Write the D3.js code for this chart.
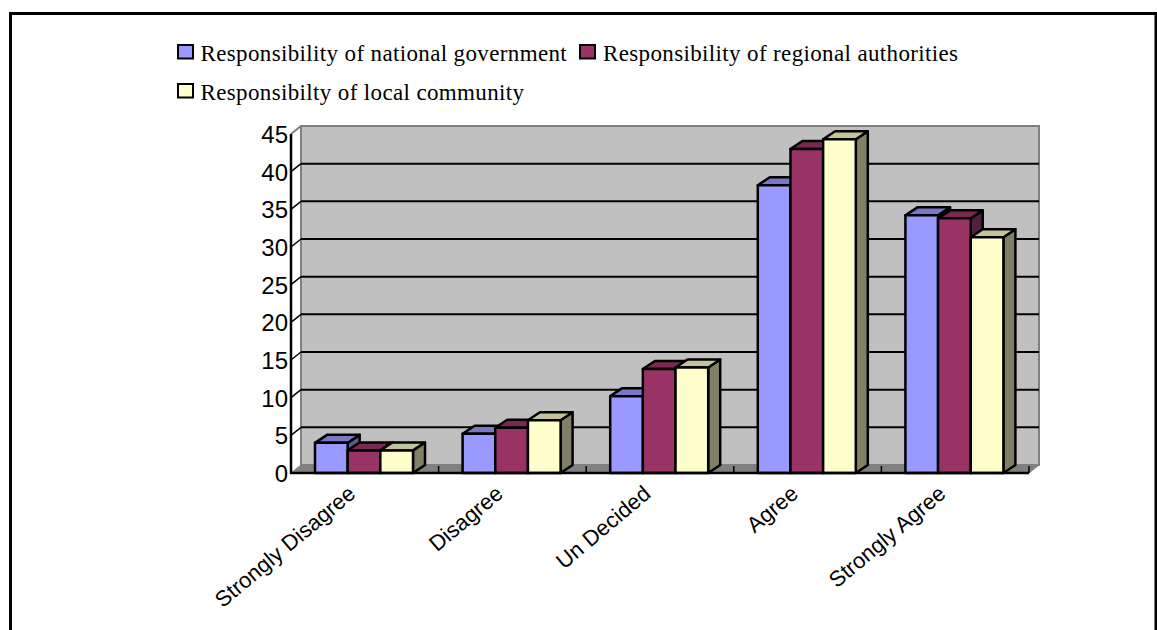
<!DOCTYPE html>
<html><head><meta charset="utf-8">
<script src="https://cdn.jsdelivr.net/npm/d3@7"></script>
<style>html,body{margin:0;padding:0;background:#fff}svg{display:block}</style>
</head><body><svg id="c" width="1157" height="630"></svg>
<script>
const categories=["Strongly Disagree","Disagree","Un Decided","Agree","Strongly Agree"];
const seriesNames=["Responsibility of national government","Responsibility of regional authorities","Responsibilty of local community"];
const national=[4,5.2,10.2,38.2,34.2];
const regional=[3,6,13.8,43,33.8];
const local=[3,7,14,44.3,31.3];
const yTicks=[0,5,10,15,20,25,30,35,40,45];
const front=["#9999ff","#993366","#ffffcc"];
const topFace=["#7878c4","#7a2952","#c4c49c"];
const sideFace=["#5c5c99","#521f3d","#808066"];

const svg=d3.select("#c");
const x0=291,x1=1029,yB=473,yT=134,wx=10,wy=8,bx=12,by=8;
const y=d3.scaleLinear().domain([0,45]).range([yB,yT]);
const xG=d3.scaleBand().domain(categories).range([x0,x1]);
const xS=d3.scaleBand().domain(seriesNames).range([0,98]);
const offset=24;
const all=[national,regional,local];

// frame
svg.append("path").attr("d","M10.5,630V13.5H1156V630").attr("fill","none").attr("stroke","#000").attr("stroke-width",3);

// wall
svg.append("rect").attr("x",x0+wx).attr("y",yT-wy).attr("width",x1-x0).attr("height",yB-yT)
  .attr("fill","#c0c0c0").attr("stroke","#808080").attr("stroke-width",2);
// floor
svg.append("path").attr("d",d3.line()([[x0,yB],[x0+wx,yB-wy],[x1+wx,yB-wy],[x1,yB]])+"Z").attr("fill","#808080").attr("stroke","#808080");
// side wall edge
svg.append("path").attr("d",`M${x0},${yT}L${x0+wx},${yT-wy}`).attr("stroke","#808080").attr("stroke-width",2);

// gridlines + diagonal ticks
yTicks.slice(1,-1).forEach(t=>{
  svg.append("line").attr("x1",x0+wx).attr("x2",x1+wx).attr("y1",y(t)-wy).attr("y2",y(t)-wy).attr("stroke","#000").attr("stroke-width",2);
  svg.append("line").attr("x1",x0).attr("x2",x0+wx).attr("y1",y(t)).attr("y2",y(t)-wy).attr("stroke","#000").attr("stroke-width",1.5);
});

// x ticks
xG.domain().map(c=>xG(c)).concat([x1]).slice(1).forEach(px=>{
  svg.append("line").attr("x1",px).attr("x2",px).attr("y1",yB).attr("y2",yB-7).attr("stroke","#000").attr("stroke-width",1.5);
});

// bars
categories.forEach((c,ci)=>{
  seriesNames.forEach((s,si)=>{
    const v=all[si][ci];
    const l=xG(c)+offset+xS(s), r=l+xS.bandwidth(), t=y(v);
    const g=svg.append("g").attr("stroke","#000").attr("stroke-width",2.5).attr("stroke-linejoin","round");
    g.append("path").attr("fill",sideFace[si]).attr("d",d3.line()([[r,yB],[r+bx,yB-by],[r+bx,t-by],[r,t]])+"Z");
    g.append("path").attr("fill",topFace[si]).attr("d",d3.line()([[l,t],[l+bx,t-by],[r+bx,t-by],[r,t]])+"Z");
    g.append("rect").attr("fill",front[si]).attr("x",l).attr("y",t).attr("width",r-l).attr("height",yB-t);
  });
});

// axes lines
svg.append("line").attr("x1",x0).attr("x2",x0).attr("y1",yT).attr("y2",yB+1).attr("stroke","#000").attr("stroke-width",2.5);
svg.append("line").attr("x1",x0-1).attr("x2",x1).attr("y1",yB).attr("y2",yB).attr("stroke","#000").attr("stroke-width",2.5);

// y labels
svg.selectAll("text.yl").data(yTicks).join("text").attr("class","yl")
  .attr("x",x0-3).attr("y",d=>y(d)+9).attr("text-anchor","end")
  .attr("font-family","Liberation Sans").attr("font-size",24).text(d=>d);

// x labels
categories.forEach(c=>{
  const px=xG(c)+xG.bandwidth()/2-8, py=yB+23;
  svg.append("text").attr("transform",`translate(${px},${py}) rotate(-40)`)
    .attr("text-anchor","end").attr("font-family","Liberation Sans").attr("font-size",22).attr("fill","#000").text(c);
});

// legend
const legendPos=[[178,53,200.5],[580,53,603],[178,92,200.5]];
seriesNames.forEach((s,i)=>{
  const [bxp,ly,tx]=legendPos[i];
  svg.append("rect").attr("x",bxp).attr("y",ly-8).attr("width",15).attr("height",13.5).attr("fill",front[i]).attr("stroke","#000").attr("stroke-width",2);
  svg.append("text").attr("x",tx).attr("y",ly+8).attr("font-family","Liberation Serif").attr("font-size",23).attr("letter-spacing",0.36).attr("fill","#000").text(s);
});
</script></body></html>
